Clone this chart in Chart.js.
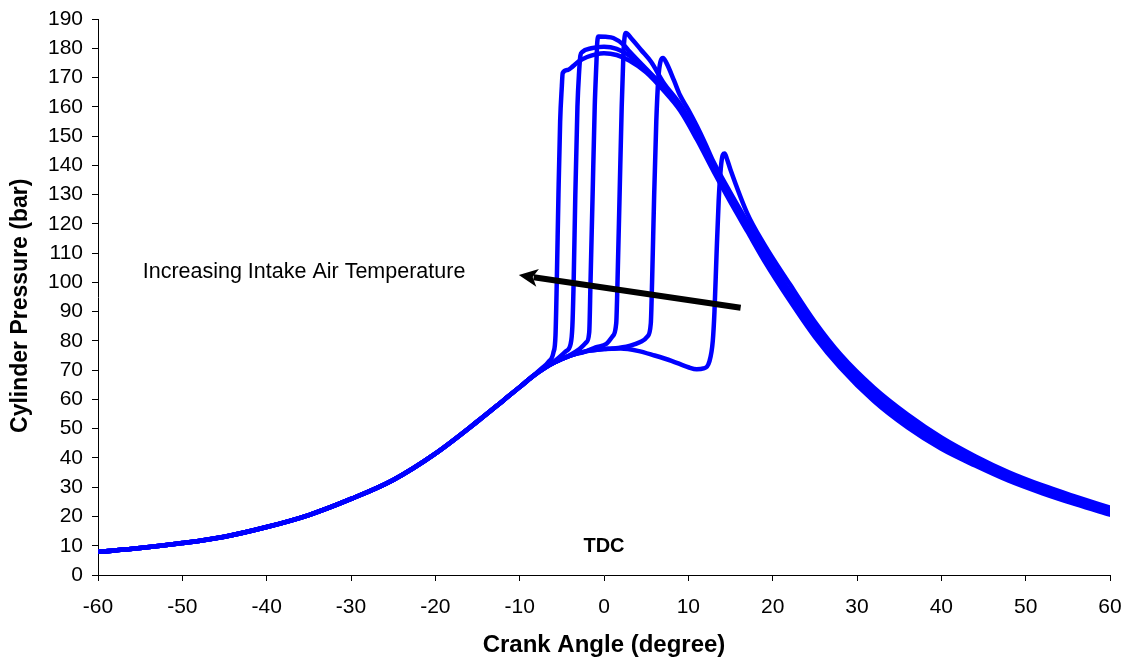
<!DOCTYPE html>
<html>
<head>
<meta charset="utf-8">
<title>Cylinder Pressure</title>
<script src="https://cdn.jsdelivr.net/npm/chart.js@4.4.0/dist/chart.umd.min.js"></script>
<style>
    html, body { margin: 0; padding: 0; background: #fff; }
</style>
</head>
<body>
<canvas id="chartjs-0" width="1126" height="657"></canvas>
<script>
// shared compression stroke, before any of the runs ignite
var compX = [-60, -55, -50, -45, -40, -35, -30, -25, -20, -15, -12, -10, -8.5];
var compY = [7.9, 9.2, 10.9, 13.1, 16.4, 20.5, 26, 32.5, 41.5, 52.5, 59.5, 64.2, 67.8];

// one run per intake air temperature (hottest first)
var c1x = [-7.4, -6.6, -6.0, -5.75, -5.6, -5.4, -5.2, -5.0, -4.9, -4.3, -3.7, -3, -2, -1, 0, 1.5, 3, 5, 7, 9, 11, 13, 15, 17, 19, 22, 25, 28, 32, 36, 40, 44, 48, 52, 56, 60];
var c1y = [70.6, 72.8, 76, 82, 100, 130, 155, 167, 171.5, 172.6, 173.8, 175.5, 177, 177.9, 178.3, 177.7, 175.8, 171.8, 165.8, 158.8, 148.9, 137.9, 127.4, 117.4, 107.4, 93.9, 81.4, 70.9, 59.4, 50.4, 43.1, 37.4, 32.2, 27.9, 24.1, 20.6];

var c2x = [-7.2, -5.9, -4.5, -3.95, -3.75, -3.6, -3.4, -3.15, -2.95, -2.8, -2.6, -1.5, 0, 1.5, 3, 5, 7, 9, 11, 13, 15, 17, 19, 22, 25, 28, 32, 36, 40, 44, 48, 52, 56, 60];
var c2y = [70.7, 73, 76.5, 79, 85, 100, 130, 160, 172, 177.5, 178.7, 180, 180.5, 179.8, 177.5, 172.5, 166.2, 159.5, 149.7, 138.7, 128.2, 118.2, 108.2, 94.7, 82.2, 71.7, 60.2, 51.2, 43.8, 38, 32.7, 28.4, 24.6, 21.1];

var c3x = [-7, -5.9, -4.3, -2.9, -2.1, -1.75, -1.6, -1.35, -1.1, -0.9, -0.8, -0.65, 0.2, 1.1, 2.4, 3, 5, 7, 9, 11, 13, 15, 17, 19, 22, 25, 28, 32, 36, 40, 44, 48, 52, 56, 60];
var c3y = [70.8, 72.6, 74.8, 77.2, 79.5, 83, 100, 130, 160, 175, 182, 184, 183.9, 183.5, 181, 179, 173, 167, 160, 150.5, 139.5, 129, 119, 109, 95.5, 83, 72.5, 61, 52, 44.5, 38.5, 33.2, 28.8, 25, 21.5];

var c4x = [-7, -5.9, -4, -2.4, -1, 0.3, 1.0, 1.45, 1.6, 1.85, 2.1, 2.3, 2.45, 2.6, 3.2, 4.4, 5.6, 7, 9, 11, 13, 15, 17, 19, 22, 25, 28, 32, 36, 40, 44, 48, 52, 56, 60];
var c4y = [70.8, 72.6, 75, 76.2, 77.8, 79, 81.5, 86, 100, 130, 160, 178, 184, 185.2, 183.5, 179.4, 175.3, 168.5, 161, 151.3, 140.3, 129.8, 119.8, 109.8, 96.3, 83.8, 73.3, 61.8, 52.8, 45.2, 39, 33.7, 29.3, 25.4, 21.9];

var c5x = [-7, -5.9, -4, -2, 0, 1, 3, 4.3, 5.15, 5.55, 5.7, 5.95, 6.2, 6.45, 6.7, 7.0, 7.4, 8.3, 9, 10, 11, 12, 13, 15, 17, 19, 22, 25, 28, 32, 36, 40, 44, 48, 52, 56, 60];
var c5y = [70.8, 72.6, 75, 76.5, 77.2, 77.4, 78.3, 79.6, 81.5, 86, 100, 130, 155, 170, 175.5, 176.7, 175, 169, 164, 159, 153.5, 147.5, 141.1, 130.6, 120.6, 110.6, 97.1, 84.6, 74.1, 62.6, 53.6, 45.9, 39.6, 34.2, 29.7, 25.9, 22.4];

var c6x = [-7, -5.9, -4, -2, 0, 2, 4, 6, 8, 10, 11, 11.8, 12.5, 12.9, 13.1, 13.35, 13.6, 13.85, 14.1, 14.3, 14.6, 15.0, 17, 19, 22, 25, 28, 32, 36, 40, 44, 48, 52, 56, 60];
var c6y = [70.8, 72.6, 75, 76.5, 77.2, 77.4, 76.6, 75, 73.2, 71, 70.3, 70.6, 73, 80, 90, 110, 128, 139, 143.6, 144, 142, 138.5, 123.5, 113, 99.5, 86.5, 75.5, 64, 54.8, 47, 40.6, 35.1, 30.6, 26.7, 23];

var xTicks = [-60, -50, -40, -30, -20, -10, 0, 10, 20, 30, 40, 50, 60];
var yTicks = [0, 10, 20, 30, 40, 50, 60, 70, 80, 90, 100, 110, 120, 130, 140, 150, 160, 170, 180, 190];

// annotation spots, in data units
var noteText = "Increasing Intake Air Temperature";
var notePos = [-54.7, 103.6];
var tdcPos = [0, 9.6];
var arrowFrom = [16.2, 91.3];
var arrowTo = [-10.1, 102.5];
var yTitle = "Cylinder Pressure (bar)";

function makePoints(xs, ys) {
    var pts = [];
    for (var i = 0; i < compX.length; i++) {
        pts.push({ x: compX[i], y: compY[i] });
    }
    for (var j = 0; j < xs.length; j++) {
        pts.push({ x: xs[j], y: ys[j] });
    }
    return pts;
}

var runs = [[c1x, c1y], [c2x, c2y], [c3x, c3y], [c4x, c4y], [c5x, c5y], [c6x, c6y]];
var sets = [];
for (var k = 0; k < runs.length; k++) {
    sets.push({
        data: makePoints(runs[k][0], runs[k][1]),
        showLine: true,
        borderColor: "#0000FF",
        borderWidth: 4.5,
        borderJoinStyle: "round",
        borderCapStyle: "round",
        pointRadius: 0,
        cubicInterpolationMode: "monotone",
        fill: false
    });
}

var notes = {
    id: "notes",
    afterDatasetsDraw: function (chart) {
        var ctx = chart.ctx;
        var xs = chart.scales.x;
        var ys = chart.scales.y;
        var x0 = xs.getPixelForValue(arrowFrom[0]);
        var y0 = ys.getPixelForValue(arrowFrom[1]);
        var x1 = xs.getPixelForValue(arrowTo[0]);
        var y1 = ys.getPixelForValue(arrowTo[1]);
        var a = Math.atan2(y1 - y0, x1 - x0);
        var c = Math.cos(a), s = Math.sin(a);
        var len = 19, half = 9;

        ctx.save();
        ctx.strokeStyle = "#000";
        ctx.fillStyle = "#000";
        ctx.lineWidth = 6;
        ctx.beginPath();
        ctx.moveTo(x0, y0);
        ctx.lineTo(x1 - c * (len - 4), y1 - s * (len - 4));
        ctx.stroke();

        ctx.beginPath();
        ctx.moveTo(x1, y1);
        ctx.lineTo(x1 - c * len - s * half, y1 - s * len + c * half);
        ctx.lineTo(x1 - c * (len - 5), y1 - s * (len - 5));
        ctx.lineTo(x1 - c * len + s * half, y1 - s * len - c * half);
        ctx.closePath();
        ctx.fill();

        ctx.font = "21.5px 'Liberation Sans', Arial, sans-serif";
        ctx.textAlign = "left";
        ctx.textBaseline = "middle";
        ctx.fillText(noteText, xs.getPixelForValue(notePos[0]), ys.getPixelForValue(notePos[1]));

        ctx.font = "bold 20px 'Liberation Sans', Arial, sans-serif";
        ctx.textAlign = "center";
        ctx.fillText("TDC", xs.getPixelForValue(tdcPos[0]), ys.getPixelForValue(tdcPos[1]));

        // y axis title, sits a little below the middle of the axis like the original
        ctx.translate(21, ys.getPixelForValue(92));
        ctx.rotate(-Math.PI / 2);
        ctx.font = "bold 23px 'Liberation Sans', Arial, sans-serif";
        ctx.fillText(yTitle, 0, 0);
        ctx.restore();
    }
};

Chart.defaults.font.family = "'Liberation Sans', Arial, sans-serif";
Chart.defaults.color = "#000";

var ctx0 = document.getElementById("chartjs-0");
var myChart = new Chart(ctx0, {
    type: "scatter",
    data: { datasets: sets },
    options: {
        responsive: false,
        animation: false,
        devicePixelRatio: 1,
        layout: { padding: { top: 19, right: 16, left: 0, bottom: 0 } },
        plugins: {
            legend: { display: false },
            tooltip: { enabled: false }
        },
        scales: {
            x: {
                type: "linear",
                min: -60,
                max: 60,
                afterFit: function (scale) {
                    scale.height = 82;
                    scale.paddingLeft = 0;
                    scale.paddingRight = 0;
                },
                afterBuildTicks: function (scale) {
                    scale.ticks = xTicks.map(function (v) { return { value: v }; });
                },
                grid: { drawOnChartArea: false, drawTicks: true, tickLength: 6, color: "#000" },
                border: { display: true, color: "#000", width: 1 },
                ticks: { font: { size: 21 }, padding: 14, color: "#000", maxRotation: 0 },
                title: {
                    display: true,
                    text: "Crank Angle (degree)",
                    font: { size: 24, weight: "bold" },
                    padding: { top: 0, bottom: -3 }
                }
            },
            y: {
                type: "linear",
                min: 0,
                max: 190,
                afterFit: function (scale) {
                    scale.width = 98;
                    scale.paddingTop = 0;
                    scale.paddingBottom = 0;
                },
                afterBuildTicks: function (scale) {
                    scale.ticks = yTicks.map(function (v) { return { value: v }; });
                },
                grid: { drawOnChartArea: false, drawTicks: true, tickLength: 6, color: "#000" },
                border: { display: true, color: "#000", width: 1 },
                ticks: { font: { size: 21 }, padding: 9, color: "#000" },
                title: { display: false }
            }
        }
    },
    plugins: [notes]
});
</script>
</body>
</html>
